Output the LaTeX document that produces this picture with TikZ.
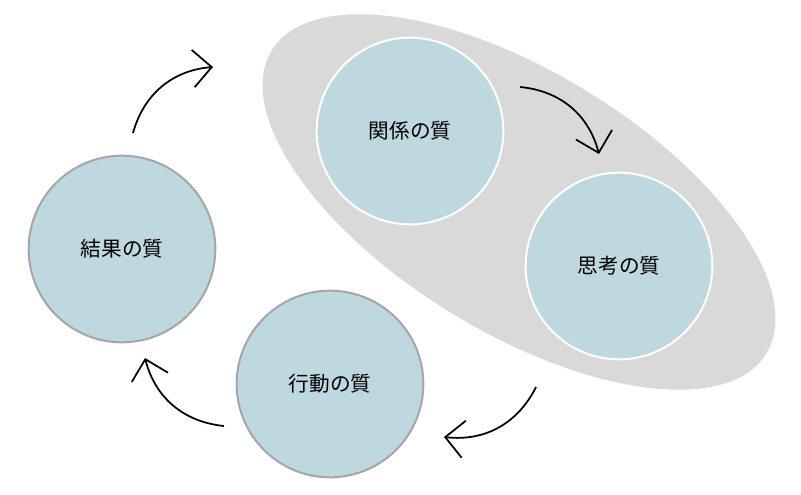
\documentclass[tikz,border=0pt]{standalone}
\usepackage{fontspec}
\newfontfamily\jpfont{Noto Sans CJK JP}
\usepackage{tikz}
\usetikzlibrary{arrows.meta,positioning}
\definecolor{qfill}{RGB}{189,216,222}
\definecolor{qline}{RGB}{166,166,166}
\definecolor{bgoval}{RGB}{217,217,217}

\begin{document}
\begin{tikzpicture}[
    x=0.75pt, y=-0.75pt,
    font=\jpfont\fontsize{15.5}{18}\selectfont,
    quality/.style={circle, draw=qline, line width=1.5pt, fill=qfill,
                    minimum size=140pt, inner sep=0pt, align=center},
    inner/.style={quality, draw=white},
    cycle/.style={-{Straight Barb[length=14pt, width=28pt]}, line width=1.3pt,
                  black, bend left=35}
]
\useasboundingbox (0,0) rectangle (801,494);
\fill[bgoval, rotate around={-31.5:(519,202)}] (519,202)
    ellipse [x radius=290, y radius=130];

\node[quality] (kekka) at (122,249) {結果の質};
\node[inner]   (kankei) at (410,131) {関係の質};
\node[inner]   (shikou) at (619,266) {思考の質};
\node[quality] (koudou) at (330,384) {行動の質};

\coordinate (a1s) at (133,133);
\coordinate (a1e) at (213,67);
\coordinate (a2s) at (520,87);
\coordinate (a2e) at (599,154);
\coordinate (a3s) at (536,387);
\coordinate (a3e) at (444,437);
\coordinate (a4s) at (224,426);
\coordinate (a4e) at (145,358);
\draw[cycle] (a1s) to (a1e);
\draw[cycle] (a2s) to (a2e);
\draw[cycle] (a3s) to (a3e);
\draw[cycle] (a4s) to (a4e);
\end{tikzpicture}
\end{document}
